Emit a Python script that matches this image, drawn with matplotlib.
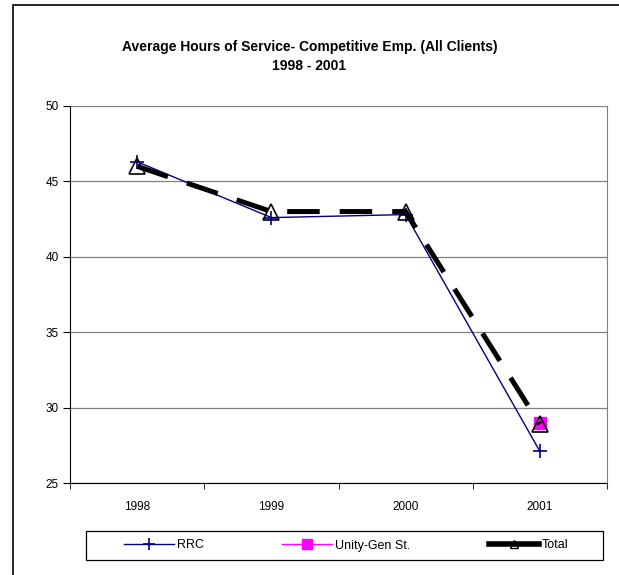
import matplotlib.pyplot as plt
from matplotlib.patches import Rectangle
from matplotlib.lines import Line2D
import numpy as np

plt.rcParams['font.family'] = ['Liberation Sans', 'DejaVu Sans']

years = ['1998', '1999', '2000', '2001']
rrc = [46.3, 42.6, 42.8, 27.1]
unity = [np.nan, np.nan, np.nan, 29.0]
total = [46.0, 43.0, 43.0, 28.9]

fig = plt.figure(figsize=(6.19, 5.75), dpi=100)
ax = fig.add_axes([70 / 619, 1 - 483 / 575, 537 / 619, 377 / 575])

x = np.arange(len(years))
ax.plot(x, rrc, color='#000080', lw=1, marker='+', ms=10, mew=1.2, zorder=4)
ax.plot(x, unity, color='#ff00ff', lw=1, marker='s', ms=8, zorder=3)
ax.plot(x, total, color='black', lw=3.6, ls=(0, (6.5, 4)), marker='^', ms=11,
        mfc='none', mec='black', mew=1.2, zorder=5)

ax.set_xlim(-0.5, 3.5)
ax.set_ylim(25, 50)
ax.set_yticks([25, 30, 35, 40, 45, 50])
ax.set_xticks(x)
ax.set_xticklabels(years)
ax.set_xticks([-0.5, 0.5, 1.5, 2.5, 3.5], minor=True)
ax.tick_params(axis='x', which='major', length=0, pad=13, labelsize=8.5)
ax.tick_params(axis='x', which='minor', length=4, direction='out')
ax.tick_params(axis='y', length=5, direction='out', labelsize=8.5, pad=3)
ax.grid(axis='y', color='#808080', lw=0.9)
ax.set_axisbelow(True)
ax.spines['top'].set_visible(False)
ax.spines['right'].set_color('#808080')

fig.text(0.5, 1 - 47 / 575, 'Average Hours of Service- Competitive Emp. (All Clients)',
         ha='center', va='center', fontsize=10, fontweight='bold')
fig.text(0.5, 1 - 66 / 575, '1998 - 2001', ha='center', va='center', fontsize=10, fontweight='bold')

# legend: proxies so Total shows as a solid bar with a small triangle
handles = [
    Line2D([], [], color='#000080', lw=1, marker='+', ms=8, mew=1.2),
    Line2D([], [], color='#ff00ff', lw=1, marker='s', ms=7),
    Line2D([], [], color='black', lw=4, marker='^', ms=6, mfc='none', mec='black'),
]
labels = ['RRC', 'Unity-Gen St.', 'Total']
leg = fig.legend(handles, labels, loc='center', bbox_to_anchor=(346 / 619, 1 - 545.5 / 575),
                 ncol=3, frameon=False, fontsize=9, columnspacing=6.3,
                 handlelength=4, handletextpad=0.2)

fig.patches.append(Rectangle((86 / 619, 1 - 560 / 575), 517 / 619, 29 / 575,
                             transform=fig.transFigure, fill=False, edgecolor='black', lw=0.9))
fig.patches.append(Rectangle((13 / 619, -0.1), 1.2, 1 - 5 / 575 + 0.1, transform=fig.transFigure,
                             fill=False, edgecolor='black', lw=1.2))

fig.savefig('out.png', dpi=100)
